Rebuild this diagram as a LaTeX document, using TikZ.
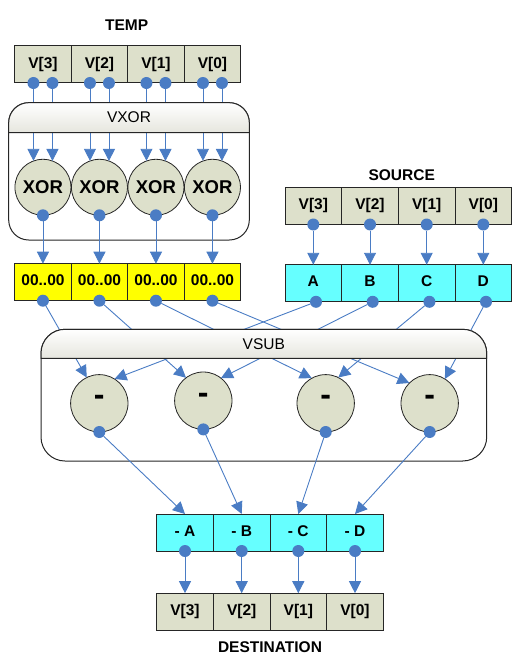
\documentclass[tikz,border=0pt]{standalone}
\usepackage{fontspec}
\setmainfont{Liberation Sans}
\usetikzlibrary{arrows.meta,calc}
\definecolor{cellgray}{HTML}{DDE0CB}
\definecolor{conn}{HTML}{4A7CC4}
\definecolor{cyanf}{HTML}{66FFFF}
\definecolor{yell}{HTML}{FFFF00}
\definecolor{hdr}{HTML}{E6E6DE}
\begin{document}
\begin{tikzpicture}[x=1pt,y=-1pt,
  cell/.style={draw=black!85,line width=1pt,minimum width=56.6pt,minimum height=37pt,
    inner sep=0pt,outer sep=0pt,text height=0.72em,text depth=0pt,
    font=\fontsize{15.5}{18}\selectfont\bfseries},
  graycell/.style={cell,fill=cellgray},
  yelcell/.style={cell,fill=yell},
  cyancell/.style={cell,fill=cyanf},
  dot/.style={circle,fill=conn,minimum size=12pt,inner sep=0pt,outer sep=0pt},
  wire/.style={draw=conn,line width=0.9pt},
  arr/.style={wire,-{Triangle[length=12pt,width=12pt]}},
  xorop/.style={circle,draw=black!85,fill=cellgray,line width=0.8pt,minimum size=56pt,
    inner sep=0pt,outer sep=0pt,font=\fontsize{18.5}{20}\selectfont\bfseries},
  subop/.style={circle,draw=black!85,fill=cellgray,line width=0.8pt,minimum size=57.4pt,
    inner sep=0pt,outer sep=0pt,text height=0.53em,text depth=0pt,
    font=\fontsize{32}{32}\selectfont\bfseries},
  container/.style={draw=black!85,line width=1pt},
  header/.style={draw=black!85,line width=1pt,top color=white,bottom color=hdr},
  title/.style={font=\fontsize{15.5}{18}\selectfont\bfseries},
  hlabel/.style={font=\fontsize{15.5}{18}\selectfont},
]
\useasboundingbox (0,0) rectangle (522,668);

% containers (outline)
\draw[container,rounded corners=20pt] (8.7,102.7) rectangle (249.3,240);
\draw[container,rounded corners=24pt] (41,329.3) rectangle (486.7,461);

% titles
\node[title] (ttemp) at (126.7,25) {TEMP};
\node[title] (tsrc) at (401.7,175) {SOURCE};
\node[title] (tdst) at (270,646.7) {DESTINATION};

% TEMP
\node[graycell] (t1) at (42.95,64.5) {V[3]};
\node[graycell] (t2) at (99.45,64.5) {V[2]};
\node[graycell] (t3) at (155.95,64.5) {V[1]};
\node[graycell] (t4) at (212.45,64.5) {V[0]};
\foreach \i in {1,...,4}{
  \node[dot] (t\i a) at ($(t\i.south)+(-9.5,0)$) {};
  \node[dot] (t\i b) at ($(t\i.south)+(9.5,0)$) {};
}

% XOR operators
\node[xorop] (x1) at (42.95,187.3) {XOR};
\node[xorop] (x2) at (99.45,187.3) {XOR};
\node[xorop] (x3) at (155.95,187.3) {XOR};
\node[xorop] (x4) at (212.45,187.3) {XOR};
\foreach \i in {1,...,4}{\node[dot] (x\i d) at (x\i.south) {};}

% zero results
\node[yelcell] (y1) at (42.95,282.2) {00..00};
\node[yelcell] (y2) at (99.45,282.2) {00..00};
\node[yelcell] (y3) at (155.95,282.2) {00..00};
\node[yelcell] (y4) at (212.45,282.2) {00..00};
\foreach \i in {1,...,4}{\node[dot] (y\i d) at (y\i.south) {};}

% SOURCE
\node[graycell] (s1) at (313.3,206) {V[3]};
\node[graycell] (s2) at (370,206) {V[2]};
\node[graycell] (s3) at (426.7,206) {V[1]};
\node[graycell] (s4) at (483.3,206) {V[0]};
\foreach \i in {1,...,4}{\node[dot] (s\i d) at (s\i.south) {};}

\node[cyancell] (c1) at (313.3,283.3) {A};
\node[cyancell] (c2) at (370,283.3) {B};
\node[cyancell] (c3) at (426.7,283.3) {C};
\node[cyancell] (c4) at (483.3,283.3) {D};
\foreach \i in {1,...,4}{\node[dot] (c\i d) at ($(c\i.south)+(2.7,0)$) {};}

% SUB operators
\node[subop] (m1) at (99.3,403.3) {-};
\node[subop] (m2) at (203.3,400.7) {-};
\node[subop] (m3) at (325.7,403.3) {-};
\node[subop] (m4) at (429.7,403.3) {-};
\foreach \i in {1,...,4}{\node[dot] (m\i d) at (m\i.south) {};}

% negated results
\node[cyancell] (n1) at (185,532.5) {- A};
\node[cyancell] (n2) at (241.7,532.5) {- B};
\node[cyancell] (n3) at (298.3,532.5) {- C};
\node[cyancell] (n4) at (355,532.5) {- D};
\foreach \i in {1,...,4}{\node[dot] (n\i d) at (n\i.south) {};}

% DESTINATION
\node[graycell] (d1) at (185,611.7) {V[3]};
\node[graycell] (d2) at (241.7,611.7) {V[2]};
\node[graycell] (d3) at (298.3,611.7) {V[1]};
\node[graycell] (d4) at (355,611.7) {V[0]};

% wires
\foreach \i in {1,...,4}{
  \draw[arr] (t\i a) -- (t\i a |- x\i.109.8);
  \draw[arr] (t\i b) -- (t\i b |- x\i.70.2);
  \draw[arr] (x\i d) -- (y\i.north);
  \draw[arr] (s\i d) -- (c\i.north);
  \draw[arr] (m\i d) -- (n\i.north);
  \draw[arr] (n\i d) -- (d\i.north);
}
\draw[arr] (y1d) -- (m1.116);
\draw[arr] (c1d) -- (m1.58);
\draw[arr] (y2d) -- (m2.127);
\draw[arr] (c2d) -- (m2.52);
\draw[arr] (y3d) -- (m3.119);
\draw[arr] (c3d) -- (m3.64);
\draw[arr] (y4d) -- (m4.135);
\draw[arr] (c4d) -- (m4.58);

% headers (cover the wires)
\path[header] (8.7,132.7) [rounded corners=20pt] -- (8.7,102.7) -- (249.3,102.7) [sharp corners] -- (249.3,132.7) -- cycle;
\node[hlabel] (vxor) at (129,117.5) {VXOR};
\path[header] (41,358.3) [rounded corners=24pt] -- (41,329.3) -- (486.7,329.3) [sharp corners] -- (486.7,358.3) -- cycle;
\node[hlabel] (vsub) at (263.8,343.8) {VSUB};
\end{tikzpicture}
\end{document}
